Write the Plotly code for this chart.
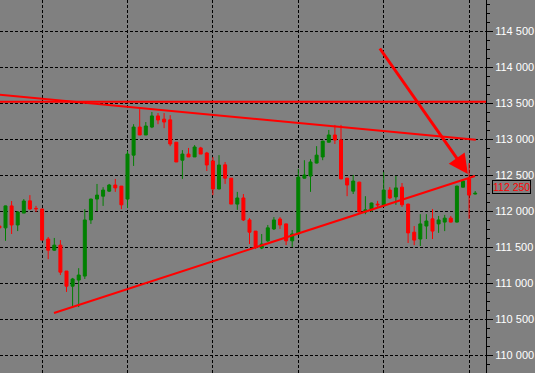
import plotly.graph_objects as go

# ---- data (prices) ----
idx = list(range(-1, 78))
opens = [111795, 111770, 112075, 111810, 111975, 112145, 112040, 112032, 111615, 111460, 111530,
         111170, 110960, 111045, 111100, 111880, 112170, 112210, 112280, 112365, 112350,
         112170, 112780, 113170, 113060, 113170, 113325, 113280, 113270, 112960, 112710,
         112795, 112755, 112880, 112810, 112700, 112310, 112645, 112460, 112100, 112185,
         111880, 111725, 111490, 111590, 111755, 111893, 111825, 111590, 111685, 112460,
         112490, 112670, 112755, 112960, 113060, 112990, 112460, 112280, 112405, 111990,
         112020, 112100, 112075, 112295, 112200, 112335, 112100, 111710, 111615, 111795,
         111895, 111825, 111850, 111905, 111850, 112335, 112450, 112240]
highs = [111810, 112080, 112143, 112004, 112170, 112225, 112075, 112035, 111643, 111630, 111600,
         111170, 111075, 111210, 112030, 112175, 112380, 112335, 112380, 112450, 112350,
         112840, 113210, 113420, 113240, 113380, 113365, 113365, 113335, 112960, 112850,
         112880, 112920, 112895, 112825, 112755, 112780, 112685, 112460, 112270, 112240,
         111905, 111725, 111685, 111810, 111920, 111920, 111830, 111740, 112590, 112710,
         112725, 112905, 112980, 113130, 113200, 113200, 112465, 112505, 112410, 112210,
         112120, 112145, 112545, 112335, 112490, 112393, 112105, 111795, 111960, 111960,
         112030, 111935, 111950, 111935, 112355, 112435, 112670, 112282]
lows = [111755, 111590, 111685, 111725, 111975, 112018, 111990, 111600, 111335, 111450, 111115,
        110880, 110685, 110670, 111060, 111825, 112005, 112075, 112268, 112270, 112030,
        112045, 112630, 113060, 113060, 113155, 113210, 113155, 112905, 112685, 112450,
        112755, 112755, 112795, 112560, 112225, 112305, 112380, 112100, 112020, 111865,
        111545, 111475, 111475, 111575, 111740, 111755, 111530, 111505, 111680, 112455,
        112270, 112665, 112710, 112955, 112935, 112445, 112210, 112240, 111985, 111960,
        111990, 112060, 112070, 112170, 112090, 112060, 111560, 111530, 111518, 111615,
        111615, 111700, 111725, 111845, 111845, 112330, 111895, 112235]
closes = [111770, 112075, 111810, 111990, 112143, 112032, 112035, 111600, 111460, 111530, 111155,
          110960, 111060, 111115, 111880, 112170, 112225, 112295, 112365, 112325, 112090,
          112795, 113170, 113060, 113185, 113325, 113268, 113240, 112935, 112685, 112795,
          112755, 112893, 112795, 112643, 112310, 112643, 112460, 112100, 112185, 111880,
          111710, 111505, 111545, 111770, 111880, 111810, 111590, 111685, 112475, 112504,
          112685, 112780, 112975, 113060, 112990, 112450, 112365, 112420, 111990, 112020,
          112115, 112090, 112295, 112185, 112325, 112090, 111700, 111600, 111825, 111865,
          111725, 111880, 111905, 111850, 112350, 112420, 112225, 112250]

y_tickvals = [110000, 110500, 111000, 111500, 112000, 112500, 113000, 113500, 114000, 114500]
y_ticktext = ["110 000", "110 500", "111 000", "111 500", "112 000", "112 500",
              "113 000", "113 500", "114 000", "114 500"]
x_gridvals = [6, 20, 34, 48, 62, 76]

resistance_level = 113520
upper_trend_x = [-1.0, 77.1]
upper_trend_y = [113620, 112994]
lower_trend_x = [7.95, 76.97]
lower_trend_y = [110588, 112490]
arrow_tail = (61.2, 114282)
arrow_head = (75.8, 112518)
last_price = 112250
last_price_text = "112 250"

x_range = [-0.902, 78.77]
y_range = [109754, 114935]

GREEN = "#008000"
RED = "#FF0000"
BG = "#808080"
FONT = "Arial, Liberation Sans"

fig = go.Figure()
fig.add_trace(go.Candlestick(
    x=idx, open=opens, high=highs, low=lows, close=closes,
    increasing=dict(line=dict(color=GREEN, width=1), fillcolor=GREEN),
    decreasing=dict(line=dict(color=RED, width=1), fillcolor=RED),
    whiskerwidth=0, showlegend=False, hoverinfo="skip"))

fig.add_trace(go.Scatter(x=upper_trend_x, y=upper_trend_y, mode="lines",
                         line=dict(color=RED, width=2), showlegend=False, hoverinfo="skip"))
fig.add_trace(go.Scatter(x=lower_trend_x, y=lower_trend_y, mode="lines",
                         line=dict(color=RED, width=2), showlegend=False, hoverinfo="skip"))
fig.add_trace(go.Scatter(x=x_range, y=[resistance_level, resistance_level], mode="lines",
                         line=dict(color=RED, width=2), showlegend=False, hoverinfo="skip"))

fig.add_annotation(x=arrow_head[0], y=arrow_head[1], ax=arrow_tail[0], ay=arrow_tail[1],
                   xref="x", yref="y", axref="x", ayref="y", text="", showarrow=True,
                   arrowhead=2, arrowsize=1.3, arrowwidth=3, arrowcolor=RED)

fig.add_annotation(x=1, xref="paper", xanchor="left", xshift=6,
                   y=last_price, yref="y", yanchor="middle", yshift=6,
                   text=last_price_text, showarrow=False,
                   font=dict(color=RED, size=10.5, family=FONT),
                   bordercolor="black", borderwidth=1, borderpad=0, bgcolor=BG)

fig.add_annotation(x=1, xref="paper", xanchor="left", xshift=8,
                   y=115000, yref="y", yanchor="middle",
                   text="115 000", showarrow=False,
                   font=dict(color="white", size=11, family=FONT))

fig.update_layout(
    width=535, height=373,
    margin=dict(l=0, r=49, t=0, b=0),
    paper_bgcolor=BG, plot_bgcolor=BG,
    boxgap=0.3,
    showlegend=False,
    xaxis=dict(range=x_range, rangeslider=dict(visible=False), showticklabels=False,
               tickmode="array", tickvals=x_gridvals, ticks="",
               showgrid=True, gridcolor="black", gridwidth=1, griddash="3px,2px",
               zeroline=False, showline=False, fixedrange=True),
    yaxis=dict(range=y_range, side="right", tickmode="array", tickvals=y_tickvals,
               ticktext=y_ticktext, ticks="outside", ticklen=6, tickcolor="black",
               tickwidth=1,
               tickfont=dict(color="white", size=11, family=FONT),
               showgrid=True, gridcolor="black", gridwidth=1, griddash="3px,2px",
               showline=True, linecolor="black", linewidth=1, zeroline=False,
               minor=dict(ticks="outside", ticklen=3, tickcolor="black", dtick=125,
                          tick0=110000, showgrid=False),
               fixedrange=True),
)

fig.write_html("out.html")
